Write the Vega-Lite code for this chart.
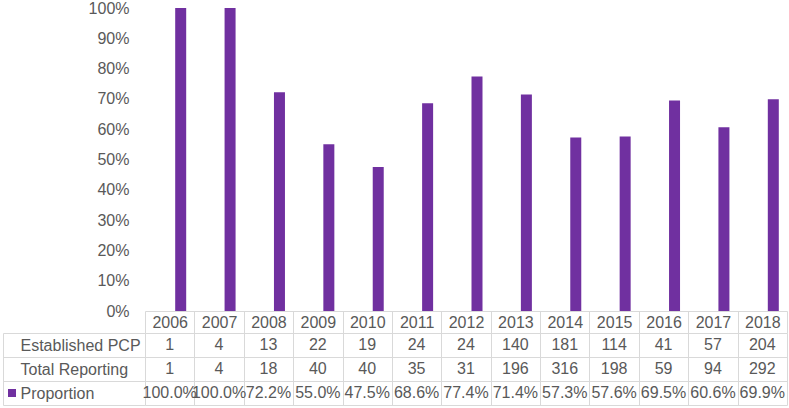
{
  "$schema": "https://vega.github.io/schema/vega-lite/v6.json",
  "padding": {"left": 2, "top": 0, "right": 0, "bottom": 0},
  "background": "white",
  "config": {"view": {"stroke": null}, "font": "Liberation Sans"},
  "datasets": {
    "d": [
      {"year": "2006", "established": 1, "total": 1, "proportion": 1.0},
      {"year": "2007", "established": 4, "total": 4, "proportion": 1.0},
      {"year": "2008", "established": 13, "total": 18, "proportion": 0.7222},
      {"year": "2009", "established": 22, "total": 40, "proportion": 0.55},
      {"year": "2010", "established": 19, "total": 40, "proportion": 0.475},
      {"year": "2011", "established": 24, "total": 35, "proportion": 0.6857},
      {"year": "2012", "established": 24, "total": 31, "proportion": 0.7742},
      {"year": "2013", "established": 140, "total": 196, "proportion": 0.7143},
      {"year": "2014", "established": 181, "total": 316, "proportion": 0.5728},
      {"year": "2015", "established": 114, "total": 198, "proportion": 0.5758},
      {"year": "2016", "established": 41, "total": 59, "proportion": 0.6949},
      {"year": "2017", "established": 57, "total": 94, "proportion": 0.6064},
      {"year": "2018", "established": 204, "total": 292, "proportion": 0.6986}
    ]
  },
  "spacing": 22,
  "bounds": "flush",
  "vconcat": [
    {
      "width": 642,
      "height": 303,
      "data": {"name": "d"},
      "mark": {"type": "bar", "width": 11, "xOffset": 11},
      "encoding": {
        "x": {
          "field": "year", "type": "ordinal",
          "scale": {"paddingInner": 0, "paddingOuter": 0},
          "axis": {
            "title": null, "labelAngle": 0, "tickBand": "extent", "tickSize": 22,
            "tickColor": "#d9d9d9", "domainColor": "#d9d9d9", "labelPadding": -11,
            "labelBaseline": "middle", "labelFontSize": 16, "labelColor": "#595959",
            "grid": false, "labelOverlap": false
          }
        },
        "y": {
          "field": "proportion", "type": "quantitative",
          "scale": {"domain": [0, 1], "nice": false},
          "axis": {
            "title": null, "format": ".0%",
            "values": [0, 0.1, 0.2, 0.3, 0.4, 0.5, 0.6, 0.7, 0.8, 0.9, 1],
            "domain": false, "ticks": false, "grid": false, "labelPadding": 16,
            "labelFontSize": 16, "labelColor": "#595959"
          }
        },
        "color": {
          "datum": "Proportion",
          "scale": {"range": ["#7030A0"]},
          "legend": {
            "orient": "none", "legendX": -141, "legendY": 377, "title": null,
            "symbolType": "square", "symbolSize": 64, "symbolStrokeWidth": 0,
            "symbolFillColor": "#7030A0", "symbolOpacity": 1,
            "labelExpr": "''", "padding": 0, "labelFontSize": 16
          }
        }
      }
    },
    {
      "width": 642,
      "height": 72,
      "data": {"name": "d"},
      "encoding": {
        "x": {
          "field": "year", "type": "ordinal",
          "scale": {"paddingInner": 0, "paddingOuter": 0},
          "axis": {
            "title": null, "labels": false, "ticks": false, "domain": false,
            "grid": true, "tickBand": "extent", "gridColor": "#d9d9d9"
          }
        }
      },
      "layer": [
        {
          "mark": {"type": "text", "fontSize": 16, "color": "#595959", "baseline": "middle"},
          "encoding": {
            "y": {
              "datum": "Established PCP", "type": "nominal",
              "scale": {"type": "band", "domain": ["Established PCP", "Total Reporting", "Proportion"], "paddingInner": 0, "paddingOuter": 0},
              "axis": {
                "title": null, "grid": true, "gridColor": "#d9d9d9", "tickBand": "extent",
                "offset": 142, "domain": true, "domainColor": "#d9d9d9",
                "ticks": true, "tickSize": -142, "tickColor": "#d9d9d9",
                "labelAlign": "left", "labelPadding": 125, "labelFontSize": 16,
                "labelColor": "#595959", "labelBaseline": "middle"
              }
            },
            "text": {"field": "established", "type": "quantitative"}
          }
        },
        {
          "mark": {"type": "text", "fontSize": 16, "color": "#595959", "baseline": "middle"},
          "encoding": {
            "y": {"datum": "Total Reporting", "type": "nominal"},
            "text": {"field": "total", "type": "quantitative"}
          }
        },
        {
          "mark": {"type": "text", "fontSize": 16, "color": "#595959", "baseline": "middle"},
          "encoding": {
            "y": {"datum": "Proportion", "type": "nominal"},
            "text": {"field": "proportion", "type": "quantitative", "format": ".1%"}
          }
        }
      ]
    }
  ]
}
